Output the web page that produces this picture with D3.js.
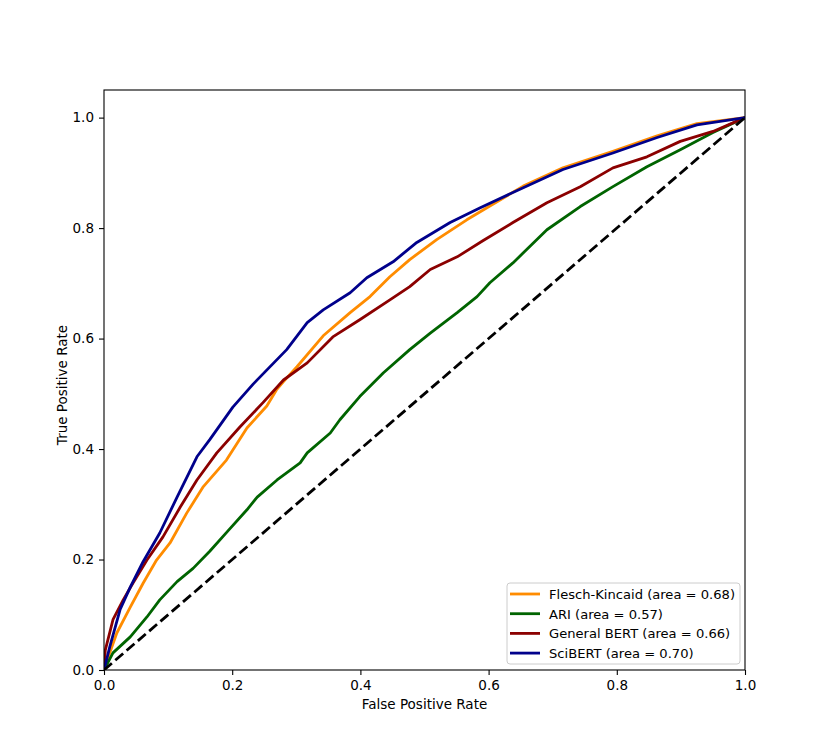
<!DOCTYPE html>
<html>
<head>
<meta charset="utf-8">
<script src="https://cdn.jsdelivr.net/npm/d3@7"></script>
<style>
  body { margin: 0; background: #fff; }
  text { font-family: "DejaVu Sans", sans-serif; }
</style>
</head>
<body>
<svg id="chart" width="831" height="754"></svg>
<script>
// ROC curves (fpr, tpr)
const fleschFpr = [0, 0.005, 0.020, 0.041, 0.061, 0.082, 0.103, 0.129, 0.155, 0.191, 0.223, 0.254, 0.269, 0.280, 0.301, 0.342, 0.384, 0.415, 0.446, 0.477, 0.519, 0.566, 0.602, 0.654, 0.716, 0.794, 0.863, 0.925, 1];
const fleschTpr = [0, 0.018, 0.067, 0.114, 0.157, 0.199, 0.230, 0.284, 0.332, 0.380, 0.438, 0.478, 0.507, 0.522, 0.549, 0.605, 0.647, 0.676, 0.712, 0.743, 0.779, 0.815, 0.840, 0.876, 0.909, 0.939, 0.967, 0.989, 1];

const ariFpr = [0, 0.014, 0.041, 0.067, 0.087, 0.114, 0.139, 0.165, 0.192, 0.223, 0.239, 0.270, 0.306, 0.317, 0.353, 0.368, 0.399, 0.436, 0.477, 0.509, 0.551, 0.582, 0.602, 0.638, 0.691, 0.743, 0.794, 0.847, 0.899, 0.950, 1];
const ariTpr = [0, 0.031, 0.060, 0.096, 0.127, 0.160, 0.184, 0.215, 0.250, 0.290, 0.313, 0.344, 0.375, 0.393, 0.429, 0.453, 0.495, 0.538, 0.580, 0.610, 0.647, 0.676, 0.701, 0.737, 0.797, 0.839, 0.875, 0.911, 0.942, 0.973, 1];

const bertFpr = [0, 0.002, 0.014, 0.030, 0.045, 0.067, 0.092, 0.119, 0.145, 0.176, 0.212, 0.248, 0.280, 0.317, 0.357, 0.399, 0.446, 0.477, 0.509, 0.551, 0.591, 0.638, 0.691, 0.743, 0.794, 0.847, 0.899, 0.950, 1];
const bertTpr = [0, 0.036, 0.091, 0.127, 0.157, 0.199, 0.241, 0.295, 0.344, 0.393, 0.440, 0.484, 0.525, 0.556, 0.603, 0.634, 0.670, 0.694, 0.725, 0.748, 0.777, 0.810, 0.846, 0.875, 0.909, 0.929, 0.957, 0.975, 1];

const sciFpr = [0, 0.009, 0.025, 0.041, 0.061, 0.087, 0.114, 0.145, 0.165, 0.201, 0.233, 0.285, 0.317, 0.342, 0.384, 0.410, 0.451, 0.488, 0.540, 0.587, 0.654, 0.716, 0.794, 0.863, 0.925, 1];
const sciTpr = [0, 0.042, 0.109, 0.150, 0.196, 0.248, 0.313, 0.386, 0.417, 0.476, 0.518, 0.580, 0.629, 0.652, 0.683, 0.710, 0.739, 0.774, 0.810, 0.837, 0.873, 0.906, 0.936, 0.964, 0.987, 1];

const seriesNames = ["Flesch-Kincaid (area = 0.68)", "ARI (area = 0.57)", "General BERT (area = 0.66)", "SciBERT (area = 0.70)"];
const seriesColors = ["#ff8c00", "#006400", "#8b0000", "#00008b"];
const tickValues = [0, 0.2, 0.4, 0.6, 0.8, 1.0];

const series = [
  {fpr: fleschFpr, tpr: fleschTpr},
  {fpr: ariFpr, tpr: ariTpr},
  {fpr: bertFpr, tpr: bertTpr},
  {fpr: sciFpr, tpr: sciTpr}
].map((s, i) => ({
  name: seriesNames[i],
  color: seriesColors[i],
  points: s.fpr.map((f, j) => [f, s.tpr[j]])
}));

const margin = {left: 104, top: 90, right: 86, bottom: 84};
const width = 831 - margin.left - margin.right;
const height = 754 - margin.top - margin.bottom;

const svg = d3.select("#chart");
const g = svg.append("g").attr("transform", `translate(${margin.left},${margin.top})`);

const x = d3.scaleLinear().domain([0, 1]).range([0, width]);
const y = d3.scaleLinear().domain([0, 1.05]).range([height, 0]);

const line = d3.line().x(d => x(d[0])).y(d => y(d[1]));

g.append("defs").append("clipPath").attr("id", "clip")
  .append("rect").attr("width", width).attr("height", height);

const plot = g.append("g").attr("clip-path", "url(#clip)");

series.forEach(s => {
  plot.append("path")
    .datum(s.points)
    .attr("fill", "none")
    .attr("stroke", s.color)
    .attr("stroke-width", 2.8)
    .attr("stroke-linejoin", "round")
    .attr("d", line);
});

plot.append("path")
  .datum([[0, 0], [1, 1]])
  .attr("fill", "none")
  .attr("stroke", "#000")
  .attr("stroke-width", 2.8)
  .attr("stroke-dasharray", "10.4,4.5")
  .attr("d", line);

// axes
const fmt = d3.format(".1f");
const xAxis = g.append("g").attr("transform", `translate(0,${height})`)
  .call(d3.axisBottom(x).tickValues(tickValues).tickFormat(fmt).tickSize(5).tickPadding(5));
const yAxis = g.append("g")
  .call(d3.axisLeft(y).tickValues(tickValues).tickFormat(fmt).tickSize(5).tickPadding(5));

[xAxis, yAxis].forEach(a => {
  a.select(".domain").remove();
  a.selectAll("line").attr("stroke", "#000").attr("stroke-width", 1.1);
  a.selectAll("text").attr("fill", "#000").style("font-size", "13.5px");
});

g.append("rect")
  .attr("width", width).attr("height", height)
  .attr("fill", "none").attr("stroke", "#000").attr("stroke-width", 1.1);

svg.append("text")
  .attr("x", margin.left + width / 2).attr("y", 709)
  .attr("text-anchor", "middle").style("font-size", "13.5px")
  .text("False Positive Rate");

svg.append("text")
  .attr("transform", `translate(67,${margin.top + height / 2 + 5}) rotate(-90)`)
  .attr("text-anchor", "middle").style("font-size", "13.5px")
  .text("True Positive Rate");

// legend
const legend = g.append("g").attr("transform", `translate(${width - 238},${height - 87})`);
legend.append("rect")
  .attr("width", 233).attr("height", 81).attr("rx", 3)
  .attr("fill", "#fff").attr("fill-opacity", 0.8)
  .attr("stroke", "#ccc").attr("stroke-width", 1);

series.forEach((s, i) => {
  const yy = 11 + i * 19.7;
  legend.append("line")
    .attr("x1", 3).attr("x2", 33).attr("y1", yy).attr("y2", yy)
    .attr("stroke", s.color).attr("stroke-width", 2.8);
  legend.append("text")
    .attr("x", 42).attr("y", yy + 5)
    .style("font-size", "13.1px")
    .text(s.name);
});
</script>
</body>
</html>
